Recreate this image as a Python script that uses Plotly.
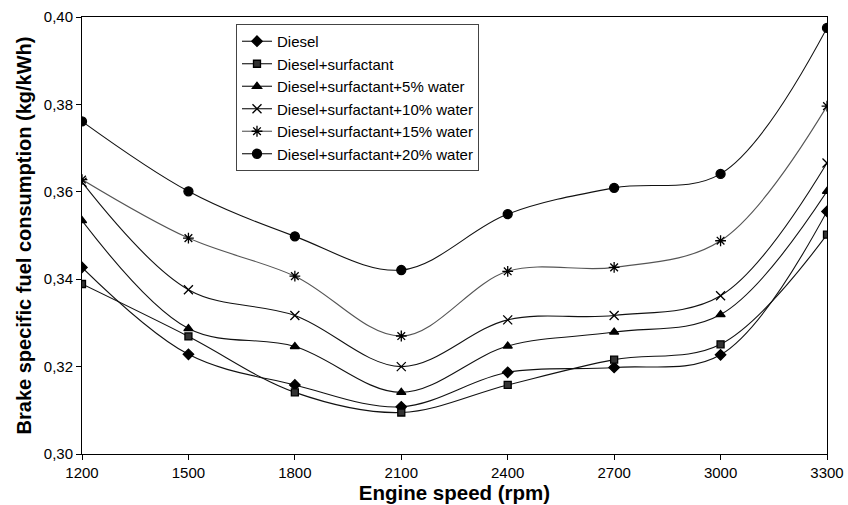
import plotly.graph_objects as go

speed = [1200, 1500, 1800, 2100, 2400, 2700, 3000, 3300]
diesel = [0.3427, 0.3228, 0.3158, 0.3108, 0.3187, 0.3198, 0.3227, 0.3555]
surf = [0.3389, 0.3269, 0.3141, 0.3095, 0.3158, 0.3216, 0.3251, 0.3502]
w5 = [0.3534, 0.3287, 0.3246, 0.3141, 0.3247, 0.3279, 0.3319, 0.3601]
w10 = [0.3622, 0.3376, 0.3317, 0.3200, 0.3307, 0.3317, 0.3362, 0.3666]
w15 = [0.3628, 0.3494, 0.3407, 0.3270, 0.3418, 0.3427, 0.3488, 0.3796]
w20 = [0.3761, 0.3601, 0.3498, 0.3421, 0.3549, 0.3609, 0.3641, 0.3975]

names = ["Diesel", "Diesel+surfactant", "Diesel+surfactant+5% water",
         "Diesel+surfactant+10% water", "Diesel+surfactant+15% water",
         "Diesel+surfactant+20% water"]
series = [diesel, surf, w5, w10, w15, w20]
symbols = ["diamond", "square", "triangle-up", "x-thin-open", "asterisk-open", "circle"]
sizes = [8, 7, 8, 9, 9, 9]
linecolors = ["#111", "#111", "#111", "#111", "#555", "#111"]
mcolors = ["#000", "#333", "#000", "#000", "#000", "#000"]

fig = go.Figure()
for n, s, sym, sz, lc, mc in zip(names, series, symbols, sizes, linecolors, mcolors):
    fig.add_trace(go.Scatter(
        x=speed, y=s, name=n, mode="lines+markers",
        line=dict(color=lc, width=1.1, shape="spline", smoothing=1.0),
        marker=dict(symbol=sym, size=sz, color=mc,
                    line=dict(color="#000", width=1.3)),
    ))

tickfont = dict(family="Liberation Sans, Arial, sans-serif", size=15, color="#000")
fig.update_layout(
    width=848, height=505,
    margin=dict(l=82, r=21, t=17, b=51),
    paper_bgcolor="white", plot_bgcolor="white",
    separators=", ",
    font=dict(family="Liberation Sans, Arial, sans-serif", color="#000"),
    showlegend=True,
    legend=dict(x=0.2067, y=0.984, xanchor="left", yanchor="top",
                bgcolor="white", bordercolor="#444", borderwidth=1,
                font=dict(size=15, family="Liberation Sans, Arial, sans-serif"),
                tracegroupgap=0, itemwidth=30),
    xaxis=dict(range=[1200, 3300], tickvals=speed,
               ticktext=[str(v) for v in speed], automargin=False,
               showgrid=False, zeroline=False, showline=True, linecolor="#000",
               linewidth=1, mirror=True, ticks="outside", ticklen=5,
               tickcolor="#000", tickfont=tickfont,
               title=dict(text="<b>Engine speed (rpm)</b>", standoff=3,
                          font=dict(size=20.5))),
    yaxis=dict(range=[0.30, 0.40], dtick=0.02, tickformat=".2f", automargin=False,
               showgrid=False, zeroline=False, showline=True, linecolor="#000",
               linewidth=1, mirror=True, ticks="outside", ticklen=5,
               tickcolor="#000", tickfont=tickfont,
               title=dict(text="<b>Brake specific fuel consumption (kg/kWh)</b>",
                          standoff=6, font=dict(size=20))),
)

fig.write_html("out.html", config={"displayModeBar": False},
               post_script="document.body.style.margin='0';document.body.style.overflow='hidden';")
